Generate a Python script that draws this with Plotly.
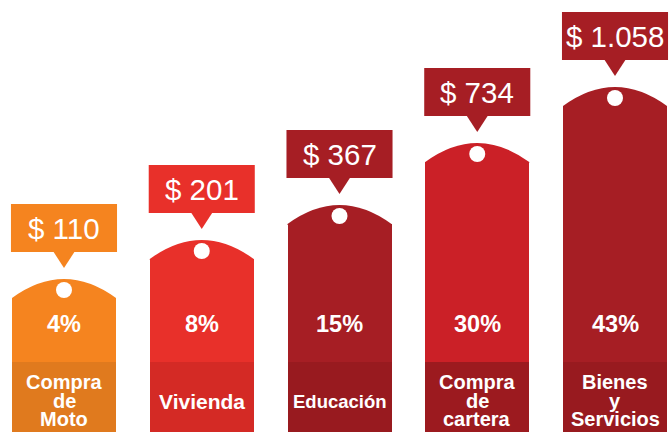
import plotly.graph_objects as go

# =====================================
# DATA
# =====================================

categories = [
    "Compra\nde\nMoto",
    "Vivienda",
    "Educación",
    "Compra\nde\ncartera",
    "Bienes\ny\nServicios",
]

amounts = [110, 201, 367, 734, 1058]

shares = [4, 8, 15, 30, 43]

# height of the tag body (px units)
tag_heights = [134, 173, 208, 270, 326]

# =====================================
# STYLE
# =====================================

tag_colors = ["#F5841F", "#E8302A", "#A61E24", "#CB2027", "#A61E24"]
band_colors = ["#E07A1E", "#D42A25", "#981A1F", "#9C1A1F", "#981A1F"]
callout_colors = ["#F5841F", "#E8302A", "#A61E24", "#A61E24", "#A61E24"]
label_sizes = [20, 21, 18.5, 20, 20]

FONT = "Liberation Sans, Arial, sans-serif"
BAND = 70
BULGE = 19
BAR_W = 0.755
BOX_W = 0.77
BOX_H = 48
BOX_GAP = 27
TIP_H = 16
TIP_HALF = 0.08

x = list(range(len(categories)))


def money(v):
    return "$ " + f"{v:,}".replace(",", ".")


fig = go.Figure()

# bottom band
fig.add_trace(
    go.Bar(
        x=x,
        y=[BAND] * len(x),
        marker=dict(color=band_colors, line=dict(width=0)),
        width=BAR_W,
        hoverinfo="skip",
    )
)

# tag body
fig.add_trace(
    go.Bar(
        x=x,
        y=[h - BAND for h in tag_heights],
        marker=dict(color=tag_colors, line=dict(width=0)),
        width=BAR_W,
        hoverinfo="skip",
    )
)

shapes = []
annotations = []

for i, h in enumerate(tag_heights):

    x0 = i - BAR_W / 2
    x1 = i + BAR_W / 2
    peak = h + BULGE

    # rounded cap
    shapes.append(
        dict(
            type="path",
            xref="x",
            yref="y",
            path=f"M {x0},{h - 1} L {x0},{h} Q {i},{h + 2 * BULGE} {x1},{h} L {x1},{h - 1} Z",
            fillcolor=tag_colors[i],
            line=dict(width=0),
            layer="below",
        )
    )

    # callout box
    box_bottom = peak + BOX_GAP
    shapes.append(
        dict(
            type="rect",
            xref="x",
            yref="y",
            x0=i - BOX_W / 2,
            x1=i + BOX_W / 2,
            y0=box_bottom,
            y1=box_bottom + BOX_H,
            fillcolor=callout_colors[i],
            line=dict(width=0),
            layer="below",
        )
    )
    shapes.append(
        dict(
            type="path",
            xref="x",
            yref="y",
            path=(
                f"M {i - TIP_HALF},{box_bottom + 1} "
                f"L {i + TIP_HALF},{box_bottom + 1} "
                f"L {i},{box_bottom - TIP_H} Z"
            ),
            fillcolor=callout_colors[i],
            line=dict(width=0),
            layer="below",
        )
    )

    annotations.append(
        dict(
            x=i,
            y=box_bottom + BOX_H / 2,
            xref="x",
            yref="y",
            text=money(amounts[i]),
            showarrow=False,
            font=dict(family=FONT, size=29.5, color="white"),
        )
    )

    # share
    annotations.append(
        dict(
            x=i,
            y=108,
            xref="x",
            yref="y",
            text=f"{shares[i]}%",
            showarrow=False,
            font=dict(family=FONT, size=23.5, color="white", weight="bold"),
        )
    )

    # category label
    lines = categories[i].split("\n")
    if len(lines) == 1:
        ys = [31]
    else:
        ys = [50 - 18.5 * k for k in range(len(lines))]
    for line, yy in zip(lines, ys):
        annotations.append(
            dict(
                x=i,
                y=yy,
                xref="x",
                yref="y",
                text=line,
                showarrow=False,
                font=dict(family=FONT, size=label_sizes[i], color="white", weight="bold"),
            )
        )

# hang holes
fig.add_trace(
    go.Scatter(
        x=x,
        y=[h + BULGE - 11 for h in tag_heights],
        mode="markers",
        marker=dict(color="white", size=16, line=dict(width=0)),
        hoverinfo="skip",
    )
)

fig.update_layout(
    width=671,
    height=432,
    margin=dict(l=0, r=0, t=0, b=0),
    paper_bgcolor="white",
    plot_bgcolor="white",
    barmode="stack",
    showlegend=False,
    shapes=shapes,
    annotations=annotations,
    xaxis=dict(range=[-0.4646, 4.4065], visible=False, fixedrange=True),
    yaxis=dict(range=[0, 432], visible=False, fixedrange=True),
)

fig.write_html(
    "out.html",
    config=dict(displayModeBar=False),
    post_script="document.body.style.margin='0';document.body.style.overflow='hidden';",
)
